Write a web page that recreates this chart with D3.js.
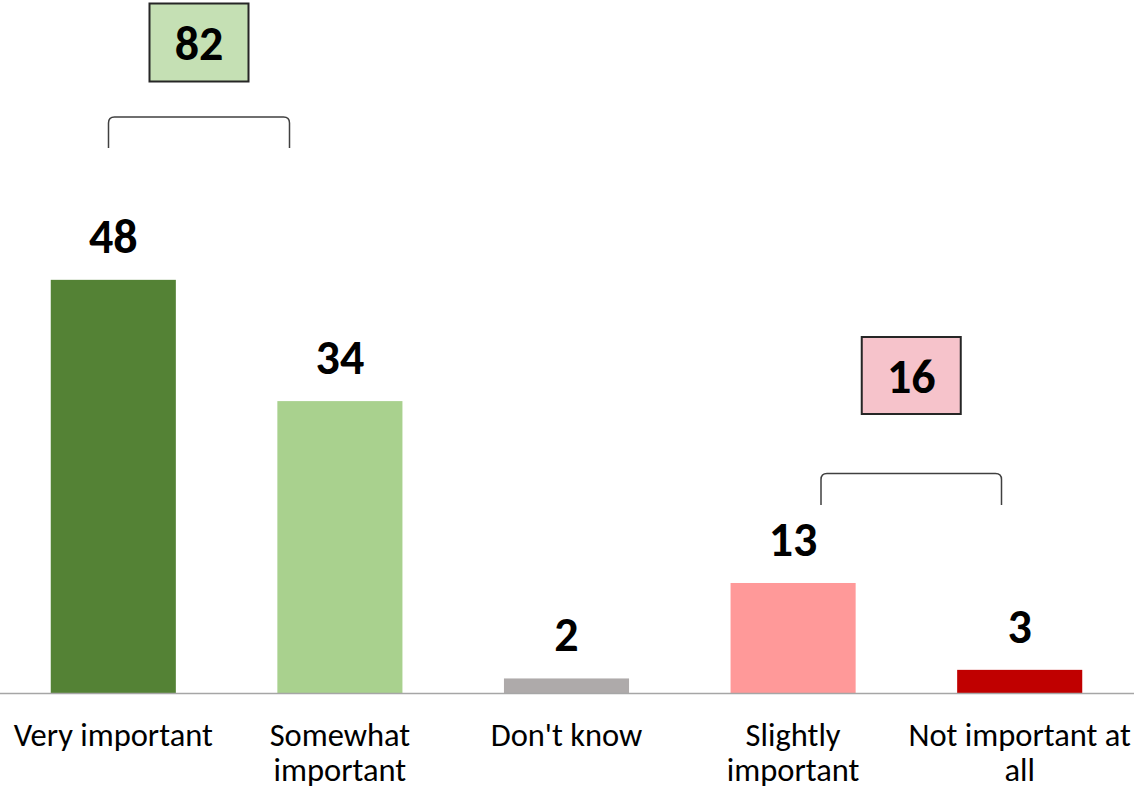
<!DOCTYPE html>
<html>
<head>
<meta charset="utf-8">
<script src="https://cdn.jsdelivr.net/npm/d3@7/dist/d3.min.js"></script>
<style>
  html, body { margin: 0; padding: 0; background: #fff; }
  svg { display: block; }
  text { font-family: Calibri, Carlito, "Liberation Sans", Arial, sans-serif; }
</style>
</head>
<body>
<svg id="chart" width="1134" height="789"></svg>
<script>
// ---- data ----
const categories = ["Very important", "Somewhat important", "Don't know", "Slightly important", "Not important at all"];
const categoryLines = [["Very important"], ["Somewhat", "important"], ["Don't know"], ["Slightly", "important"], ["Not important at", "all"]];
const values = [48.1, 34.0, 1.75, 12.85, 2.75];
const barColors = ["#548235", "#a9d18e", "#aeaaaa", "#ff9999", "#c00000"];
const groupTotals = [82, 16];
const groupLabels = ["Important", "Not important"];

// ---- layout ----
const W = 1134, H = 789;
const baseY = 693.5;
const svg = d3.select("#chart");

const x = d3.scaleBand().domain(categories).range([0, 1133]).paddingInner(0.448).paddingOuter(0.224);
const y = d3.scaleLinear().domain([0, 80]).range([baseY, baseY - 688]);

// bars
svg.selectAll("rect.bar").data(values).enter().append("rect")
  .attr("class", "bar")
  .attr("x", (d, i) => x(categories[i]))
  .attr("y", d => y(d))
  .attr("width", x.bandwidth())
  .attr("height", d => y(0) - y(d))
  .attr("fill", (d, i) => barColors[i]);

// value labels
svg.selectAll("text.val").data(values).enter().append("text")
  .attr("class", "val")
  .attr("x", (d, i) => x(categories[i]) + x.bandwidth() / 2)
  .attr("y", d => y(d) - 27)
  .attr("text-anchor", "middle")
  .attr("font-size", 48)
  .attr("font-weight", "bold")
  .attr("fill", "#000")
  .text(d => d3.format(".0f")(d));

// axis line
svg.append("line")
  .attr("x1", 0).attr("x2", W)
  .attr("y1", baseY).attr("y2", baseY)
  .attr("stroke", "#a6a6a6").attr("stroke-width", 1.5);

// category labels
const catG = svg.selectAll("text.cat").data(categories).enter().append("text")
  .attr("class", "cat")
  .attr("text-anchor", "middle")
  .attr("font-size", 32.5)
  .attr("fill", "#000");
catG.each(function(c, i) {
  const t = d3.select(this);
  categoryLines[i].forEach((line, k) => {
    t.append("tspan")
      .attr("x", x(c) + x.bandwidth() / 2)
      .attr("y", 746 + k * 35)
      .text(line);
  });
});

// group annotations (boxes + brackets)
const annos = [
  { total: groupTotals[0], fill: "#c5e0b4", x1: 108.5, x2: 289.5, bTop: 117, bBot: 148, boxTop: 3.5, boxBot: 81.5 },
  { total: groupTotals[1], fill: "#f6c3cb", x1: 821, x2: 1001.5, bTop: 473.5, bBot: 505, boxTop: 337, boxBot: 414 }
];
const bw = 99;
annos.forEach(a => {
  const cx = (a.x1 + a.x2) / 2;
  const r = 6;
  const p = d3.path();
  p.moveTo(a.x1, a.bBot);
  p.lineTo(a.x1, a.bTop + r);
  p.quadraticCurveTo(a.x1, a.bTop, a.x1 + r, a.bTop);
  p.lineTo(a.x2 - r, a.bTop);
  p.quadraticCurveTo(a.x2, a.bTop, a.x2, a.bTop + r);
  p.lineTo(a.x2, a.bBot);
  svg.append("path").attr("d", p.toString())
    .attr("fill", "none").attr("stroke", "#404040").attr("stroke-width", 1.5);
  svg.append("rect")
    .attr("x", cx - bw / 2).attr("y", a.boxTop)
    .attr("width", bw).attr("height", a.boxBot - a.boxTop)
    .attr("fill", a.fill).attr("stroke", "#262626").attr("stroke-width", 2);
  svg.append("text")
    .attr("x", cx).attr("y", (a.boxTop + a.boxBot) / 2 + 17)
    .attr("text-anchor", "middle")
    .attr("font-size", 48).attr("font-weight", "bold").attr("fill", "#000")
    .text(a.total);
});
</script>
</body>
</html>
